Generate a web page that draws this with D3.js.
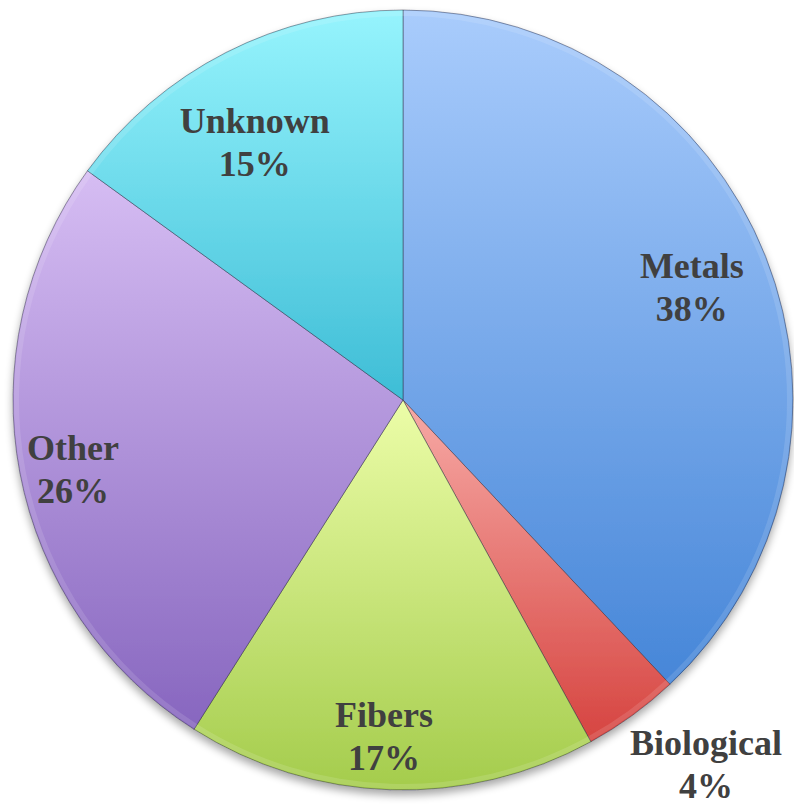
<!DOCTYPE html>
<html>
<head>
<meta charset="utf-8">
<script src="https://cdn.jsdelivr.net/npm/d3@7/dist/d3.min.js"></script>
<style>
  html, body { margin: 0; padding: 0; background: #ffffff; }
  svg { display: block; }
</style>
</head>
<body>
<svg id="chart" width="794" height="807"></svg>
<script>
// Composition shares (percent), clockwise from 12 o'clock
const categories = ["Metals", "Biological", "Fibers", "Other", "Unknown"];
const shares = [38, 4, 17, 26, 15];
const percentLabels = ["38%", "4%", "17%", "26%", "15%"];

// Gradient stops per slice: light top -> deeper bottom
const topColors = ["#a9ccfc", "#f7aaa6", "#ecfda8", "#d6bdf3", "#96f4fd"];
const bottomColors = ["#4686d8", "#d64440", "#a4cc4c", "#8766bf", "#3ebdd6"];

// Label placement relative to each slice's mid-angle
const labelRadiusFactor = [0.80, 1.2046, 0.85, 0.862, 0.774];
const labelAngleShift = [-0.6, -4.16, 1.5, -0.2, -2.4];

const width = 794, height = 807;
const cx = 403, cy = 400, radius = 390;

const svg = d3.select("#chart");
const defs = svg.append("defs");

const shadow = defs.append("filter").attr("id", "pieShadow")
  .attr("x", "-10%").attr("y", "-10%").attr("width", "120%").attr("height", "125%");
shadow.append("feGaussianBlur").attr("in", "SourceAlpha").attr("stdDeviation", 4).attr("result", "blur");
shadow.append("feOffset").attr("in", "blur").attr("dx", 0).attr("dy", 5).attr("result", "off");
shadow.append("feComponentTransfer").attr("in", "off").attr("result", "soft")
  .append("feFuncA").attr("type", "linear").attr("slope", 0.35);
const merge = shadow.append("feMerge");
merge.append("feMergeNode").attr("in", "soft");
merge.append("feMergeNode").attr("in", "SourceGraphic");

categories.forEach((c, i) => {
  const g = defs.append("linearGradient").attr("id", "grad" + i)
    .attr("x1", 0).attr("y1", 0).attr("x2", 0).attr("y2", 1);
  g.append("stop").attr("offset", "0%").attr("stop-color", topColors[i]);
  g.append("stop").attr("offset", "100%").attr("stop-color", bottomColors[i]);
});

const pie = d3.pie().sort(null).value(d => d);
const arcs = pie(shares);
const arc = d3.arc().innerRadius(0).outerRadius(radius);

const root = svg.append("g").attr("transform", `translate(${cx},${cy})`);

const slices = root.append("g").attr("filter", "url(#pieShadow)");
slices.selectAll("path.slice")
  .data(arcs)
  .join("path")
  .attr("class", "slice")
  .attr("d", arc)
  .attr("fill", (d, i) => `url(#grad${i})`)
  .attr("stroke", "rgba(40,40,60,0.45)")
  .attr("stroke-width", 1);

// Soft bevel highlight along each slice's rim
const rim = d3.arc().innerRadius(radius - 6).outerRadius(radius - 1);
root.append("g").selectAll("path.rim")
  .data(arcs)
  .join("path")
  .attr("class", "rim")
  .attr("d", rim)
  .attr("fill", "rgba(255,255,255,0.12)");

const labels = root.append("g")
  .attr("font-family", "'Liberation Serif', 'Times New Roman', serif")
  .attr("font-weight", "bold")
  .attr("font-size", 36)
  .attr("fill", "#404040")
  .attr("text-anchor", "middle");

arcs.forEach((d, i) => {
  const mid = (d.startAngle + d.endAngle) / 2 + labelAngleShift[i] * Math.PI / 180;
  const r = radius * labelRadiusFactor[i];
  const x = r * Math.sin(mid);
  const y = -r * Math.cos(mid);
  const t = labels.append("text").attr("x", x).attr("y", y);
  t.append("tspan").attr("x", x).attr("y", y - 4).text(categories[i]);
  t.append("tspan").attr("x", x).attr("y", y + 39).text(percentLabels[i]);
});
</script>
</body>
</html>
